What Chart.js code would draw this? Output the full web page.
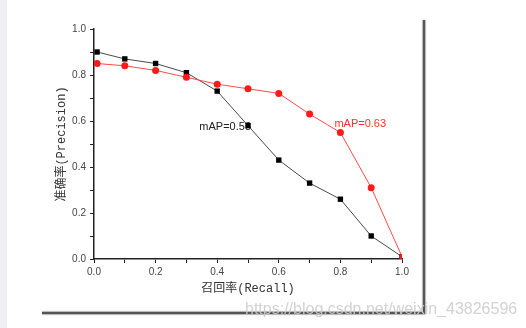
<!DOCTYPE html>
<html>
<head>
<meta charset="utf-8">
<script src="https://cdn.jsdelivr.net/npm/chart.js@4.4.1/dist/chart.umd.min.js"></script>
<style>
  html, body { margin: 0; padding: 0; background: #fff; }
  #wrap { width: 526px; height: 328px; }
</style>
</head>
<body>
<div id="wrap"><canvas id="chart-pr" width="526" height="328"></canvas></div>
<script>
// recall points (x), shared by both curves
const recall = [0.01, 0.1, 0.2, 0.3, 0.4, 0.5, 0.6, 0.7, 0.8, 0.9, 1.0];
const precisionA = [0.90, 0.87, 0.85, 0.81, 0.73, 0.58, 0.43, 0.33, 0.26, 0.10, 0.01]; // mAP=0.53
const precisionB = [0.85, 0.84, 0.82, 0.79, 0.76, 0.74, 0.72, 0.63, 0.55, 0.31, 0.01]; // mAP=0.63
const majorTicks = [0, 0.2, 0.4, 0.6, 0.8, 1.0];
const labelA = 'mAP=0.53';
const labelB = 'mAP=0.63';
const watermark = 'https://blog.csdn.net/weixin_43826596';

const toPoints = ys => recall.map((x, i) => ({ x, y: ys[i] }));
const isMajor = v => majorTicks.some(t => Math.abs(t - v) < 1e-6);

// frame, annotations, watermark
const decorations = {
    id: 'decorations',
    beforeDatasetsDraw(chart) {
        const { ctx, scales: { x, y } } = chart;
        ctx.save();
        ctx.font = '11px "Liberation Sans", Arial, sans-serif';
        ctx.textBaseline = 'middle';
        // black curve label, sits left of the 0.5 point
        ctx.fillStyle = '#222';
        ctx.textAlign = 'right';
        ctx.fillText(labelA, x.getPixelForValue(recall[5]) + 3, y.getPixelForValue(precisionA[5]) + 1);
        // red curve label, above-left of the 0.8 point
        ctx.fillStyle = '#ff3030';
        ctx.textAlign = 'left';
        ctx.fillText(labelB, x.getPixelForValue(recall[8]) - 6, y.getPixelForValue(precisionB[8]) - 9);
        ctx.restore();
    },
    afterDraw(chart) {
        const { ctx } = chart;
        ctx.save();
        ctx.fillStyle = '#f0f0f3';
        ctx.fillRect(0, 0, 7, 328);
        ctx.strokeStyle = '#555';
        ctx.lineWidth = 2.5;
        ctx.shadowColor = 'rgba(0,0,0,0.35)';
        ctx.shadowBlur = 2;
        ctx.beginPath();
        ctx.moveTo(424, 20);
        ctx.lineTo(424, 313);
        ctx.lineTo(42, 313);
        ctx.stroke();
        ctx.shadowBlur = 0;
        ctx.font = '16px "Liberation Sans", Arial, sans-serif';
        ctx.textAlign = 'left';
        ctx.textBaseline = 'middle';
        ctx.fillStyle = 'rgba(205,205,205,0.9)';
        ctx.fillText(watermark, 245, 310);
        ctx.restore();
    }
};

const tickFont = { family: '"Liberation Sans", Arial, sans-serif', size: 10 };
const titleFont = { family: '"Liberation Mono", "Noto Sans CJK SC", monospace', size: 12 };

new Chart(document.getElementById('chart-pr').getContext('2d'), {
    type: 'line',
    data: {
        datasets: [
            {
                label: labelB,
                data: toPoints(precisionB),
                borderColor: '#ff4a4a',
                backgroundColor: '#ff1a1a',
                borderWidth: 1,
                pointStyle: recall.map((_, i) => i === recall.length - 1 ? 'rect' : 'circle'),
                pointRadius: 3.5,
                pointBorderWidth: 0,
                tension: 0
            },
            {
                label: labelA,
                data: toPoints(precisionA),
                borderColor: '#4a4a4a',
                backgroundColor: '#000',
                borderWidth: 1,
                pointStyle: 'rect',
                pointRadius: 3.8,
                pointBorderWidth: 0,
                tension: 0
            }
        ]
    },
    options: {
        responsive: false,
        animation: false,
        layout: { padding: { left: 0, right: 124, top: 29, bottom: 0 } },
        plugins: { legend: { display: false }, tooltip: { enabled: false } },
        scales: {
            x: {
                type: 'linear',
                min: 0, max: 1,
                afterFit: s => { s.height = 69; },
                border: { display: true, color: '#222', width: 1.5 },
                grid: { drawOnChartArea: false, drawTicks: true, tickLength: 4, color: '#222' },
                ticks: {
                    stepSize: 0.1, maxRotation: 0, autoSkip: false, padding: 3,
                    color: '#444', font: tickFont,
                    callback: v => isMajor(v) ? v.toFixed(1) : ''
                },
                title: { display: true, text: '召回率(Recall)', color: '#333', font: titleFont, padding: { top: 0, bottom: 32 } }
            },
            y: {
                min: 0, max: 1,
                afterFit: s => { s.width = 94; },
                border: { display: true, color: '#222', width: 1.5 },
                grid: { drawOnChartArea: false, drawTicks: true, tickLength: 4, color: '#222' },
                ticks: {
                    stepSize: 0.1, autoSkip: false, padding: 4,
                    color: '#444', font: tickFont,
                    callback: v => isMajor(v) ? v.toFixed(1) : ''
                },
                title: { display: true, text: '准确率(Precision)', color: '#333', font: titleFont, padding: { top: 55, bottom: 0 } }
            }
        }
    },
    plugins: [decorations]
});
</script>
</body>
</html>
